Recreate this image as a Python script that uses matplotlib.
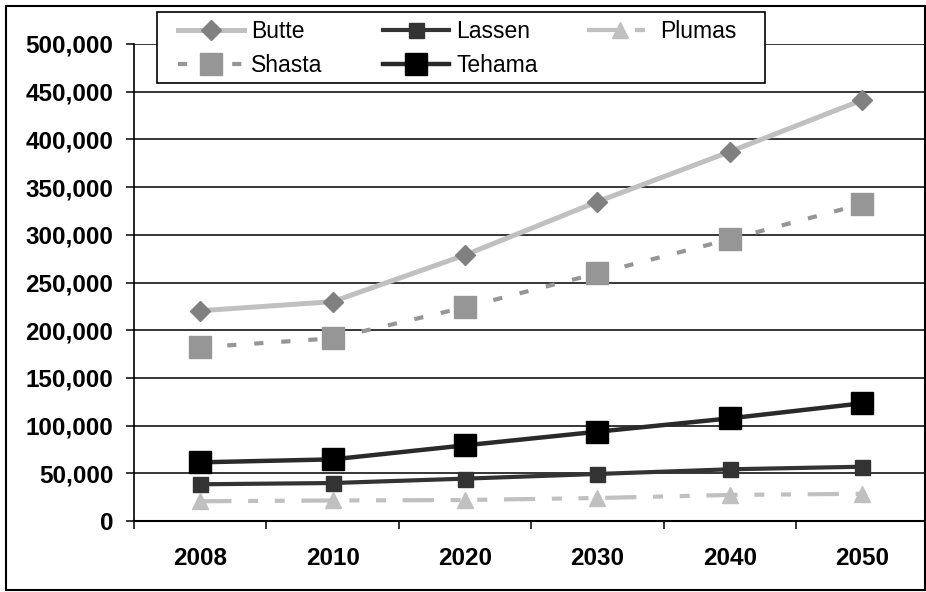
import matplotlib
matplotlib.use("Agg")
import matplotlib.pyplot as plt
from matplotlib.patches import Rectangle
from matplotlib.ticker import FuncFormatter, MultipleLocator

plt.rcParams['font.family'] = ['Liberation Sans', 'DejaVu Sans']

# Projected county populations
years = ["2008", "2010", "2020", "2030", "2040", "2050"]
butte = [220400, 229900, 278800, 334700, 387100, 441300]
lassen = [38500, 39800, 44400, 49300, 54200, 56900]
plumas = [20700, 21500, 22000, 24100, 27300, 28500]
shasta = [182100, 191500, 224000, 259600, 295300, 332300]
tehama = [61500, 64600, 79300, 93600, 107600, 123400]

W, H = 926, 592
fig = plt.figure(figsize=(W / 100, H / 100), dpi=100)
fig.patch.set_facecolor('white')

ax = fig.add_axes([134 / W, (H - 521) / H, 794.5 / W, 477 / H])
x = list(range(len(years)))

l_butte, = ax.plot(x, butte, color='#C0C0C0', lw=3.6, marker='D', ms=10.2,
                   mfc='#808080', mec='#808080', label='Butte', zorder=3)
l_lassen, = ax.plot(x, lassen, color='#333333', lw=3.0, marker='s', ms=10.8,
                    mfc='#333333', mec='#333333', label='Lassen', zorder=3)
l_plumas, = ax.plot(x, plumas, color='#C0C0C0', lw=3.0, marker='^', ms=12.2,
                    mfc='#C0C0C0', mec='#C0C0C0', label='Plumas', zorder=3,
                    linestyle=(0, (7.5, 4, 2.4, 4, 2.4, 4)))
l_shasta, = ax.plot(x, shasta, color='#969696', lw=3.0, marker='s', ms=16.3,
                    mfc='#969696', mec='#969696', label='Shasta', zorder=3,
                    linestyle=(0, (2.2, 4.3)))
l_tehama, = ax.plot(x, tehama, color='#2a2a2a', lw=3.2, marker='s', ms=16.3,
                    mfc='black', mec='black', label='Tehama', zorder=3)

ax.set_xlim(-0.5, len(years) - 0.5)
ax.set_ylim(0, 500000)
ax.yaxis.set_major_locator(MultipleLocator(50000))
ax.yaxis.set_major_formatter(FuncFormatter(lambda v, p: f"{int(v):,}"))

ax.set_xticks(x)
ax.set_xticklabels(years)
ax.set_xticks([i - 0.5 for i in range(len(years) + 1)], minor=True)
ax.tick_params(axis='x', which='major', length=0, pad=19)
ax.tick_params(axis='x', which='minor', length=5.5, width=1.1, color='black',
               direction='out')
ax.tick_params(axis='y', which='major', length=6, width=1.1, color='black',
               direction='out', pad=9)
for lab in ax.get_xticklabels() + ax.get_yticklabels():
    lab.set_fontsize(17.5)
    lab.set_fontweight('bold')

ax.grid(axis='y', color='black', lw=1.1, zorder=1)
ax.set_axisbelow(True)
ygl = ax.get_ygridlines()
ygl[-1].set_color('#808080')

for s in ('top', 'right'):
    ax.spines[s].set_visible(False)
ax.spines['left'].set_linewidth(1.2)
ax.spines['bottom'].set_linewidth(1.5)

# outer chart border
fig.patches.append(Rectangle((6 / W, 2.5 / H), 919 / W, 584 / H,
                             transform=fig.transFigure, fill=False,
                             ec='black', lw=1.5, zorder=1))
# legend frame
fig.patches.append(Rectangle((157 / W, (H - 83) / H), 608 / W, 71 / H,
                             transform=fig.transFigure, fc='white',
                             ec='black', lw=1.2, zorder=2))

leg_kw = dict(frameon=False, fontsize=16.5, handlelength=2.9, handletextpad=0.3,
              labelspacing=0.5, borderpad=0, borderaxespad=0, numpoints=1,
              loc='center left')
fig.legend(handles=[l_butte, l_shasta], bbox_to_anchor=(178 / W, 1 - 48.5 / H), **leg_kw)
fig.legend(handles=[l_lassen, l_tehama], bbox_to_anchor=(383 / W, 1 - 48.5 / H), **leg_kw)
fig.legend(handles=[l_plumas], bbox_to_anchor=(587 / W, 1 - 31.5 / H), **leg_kw)

fig.savefig('out.png', dpi=100)
